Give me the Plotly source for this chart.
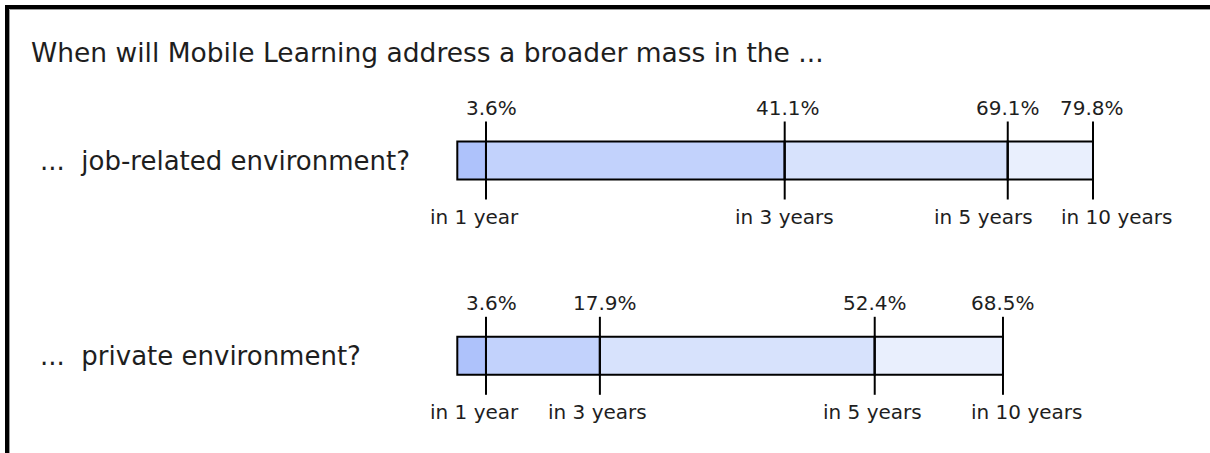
import plotly.graph_objects as go

# ---- data ----
title_text = "When will Mobile Learning address a broader mass in the ..."
environments = ["...  job-related environment?", "...  private environment?"]
horizons = ["in 1 year", "in 3 years", "in 5 years", "in 10 years"]
job_related = [3.6, 41.1, 69.1, 79.8]
private_env = [3.6, 17.9, 52.4, 68.5]

# ---- styling ----
W, H = 1210, 453
seg_colors = ["#aec2fb", "#c2d2fc", "#d7e2fc", "#e9effd"]
font_family = "DejaVu Sans"
text_color = "#1e1e1e"
pct_shift = [[6, 3, 0, -1], [6, 5, 0, 0]]
year_shift = [[-11, 0, -24, 24], [-11, -2, -2, 24]]

rows = [job_related, private_env]
row_pos = list(range(len(rows)))

# axis ranges giving the reference pixel scale
x0_px, px_per_unit = 457.3, 7.966
x_range = [-x0_px / px_per_unit, (W - x0_px) / px_per_unit]
row_c0, row_gap = 160.5, 195.3
y_range = [(H - row_c0) / row_gap, -row_c0 / row_gap]
bar_w = 38 / row_gap
tick_half = 39 / row_gap

fig = go.Figure()

for k in range(len(horizons)):
    bases = [r[k - 1] if k > 0 else 0 for r in rows]
    widths = [r[k] - b for r, b in zip(rows, bases)]
    fig.add_trace(go.Bar(
        orientation="h", y=row_pos, x=widths, base=bases, width=bar_w,
        marker=dict(color=seg_colors[k], line=dict(color="black", width=2)),
        hoverinfo="skip", showlegend=False,
    ))

lx, ly = [], []
for i, r in enumerate(rows):
    for v in r:
        lx += [v, v, None]
        ly += [i - tick_half, i + tick_half, None]
fig.add_trace(go.Scatter(x=lx, y=ly, mode="lines",
                         line=dict(color="black", width=2),
                         hoverinfo="skip", showlegend=False))

ann = []
for i, r in enumerate(rows):
    for k, v in enumerate(r):
        ann.append(dict(x=v, y=i, xref="x", yref="y", text=f"{v}%",
                        showarrow=False, xanchor="center", yanchor="middle",
                        yshift=53, xshift=pct_shift[i][k],
                        font=dict(family=font_family, size=20, color=text_color)))
        ann.append(dict(x=v, y=i, xref="x", yref="y", text=horizons[k],
                        showarrow=False, xanchor="center", yanchor="middle",
                        yshift=-56, xshift=year_shift[i][k],
                        font=dict(family=font_family, size=20, color=text_color)))
    ann.append(dict(x=38 / W, y=i, xref="paper", yref="y", text=environments[i],
                    showarrow=False, xanchor="left", yanchor="middle",
                    font=dict(family=font_family, size=26, color=text_color)))

ann.append(dict(x=29 / W, y=1 - 52 / H, xref="paper", yref="paper", text=title_text,
                showarrow=False, xanchor="left", yanchor="middle",
                font=dict(family=font_family, size=26.5, color=text_color)))

shapes = [
    dict(type="rect", xref="paper", yref="paper",
         x0=7 / W, x1=1.05, y0=1 - 7 / H, y1=-0.05,
         line=dict(color="black", width=4)),
    dict(type="rect", xref="paper", yref="paper",
         x0=9.5 / W, x1=1.05, y0=1 - 9.5 / H, y1=-0.05,
         line=dict(color="#9a9a9a", width=1)),
]

fig.update_layout(
    width=W, height=H, margin=dict(l=0, r=0, t=0, b=0),
    paper_bgcolor="white", plot_bgcolor="white",
    barmode="overlay", bargap=0,
    xaxis=dict(range=x_range, visible=False, fixedrange=True),
    yaxis=dict(range=y_range, visible=False, fixedrange=True),
    annotations=ann, shapes=shapes, showlegend=False,
)

fig.write_html("out.html",
               config={"displayModeBar": False, "staticPlot": True},
               post_script="document.body.style.margin='0';document.body.style.overflow='hidden';")
